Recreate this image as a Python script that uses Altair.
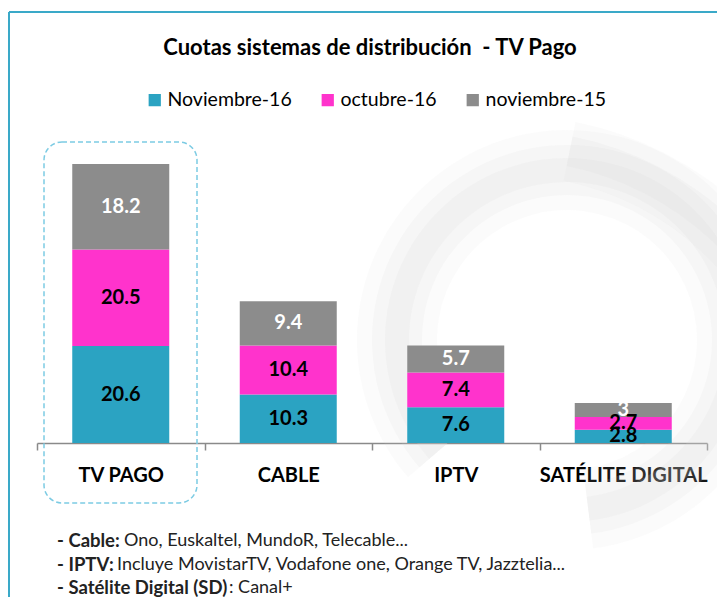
import altair as alt
import pandas as pd

categories = ["TV PAGO", "CABLE", "IPTV", "SATÉLITE DIGITAL"]
series = ["Noviembre-16", "octubre-16", "noviembre-15"]
nov16 = [20.6, 10.3, 7.6, 2.8]
oct16 = [20.5, 10.4, 7.4, 2.7]
nov15 = [18.2, 9.4, 5.7, 3]
colors = ["#2BA3C2", "#FF33CC", "#8C8C8C"]

title_text = "Cuotas sistemas de distribución\u00a0\u00a0- TV Pago"
notes_bold = ["- Cable:", "- IPTV:", "- Satélite Digital (SD)"]
notes_regular = ["Ono, Euskaltel, MundoR, Telecable...",
                 "Incluye MovistarTV, Vodafone one, Orange TV, Jazztelia...",
                 ": Canal+"]

rows = []
for i, c in enumerate(categories):
    for j, (s, vals) in enumerate(zip(series, [nov16, oct16, nov15])):
        rows.append({"cat": c, "serie": s, "value": vals[i], "order": j,
                     "label": f"{vals[i]:g}"})
df = pd.DataFrame(rows)

FONT = "Lato"
ymax = 66.5

x_enc = alt.X("cat:N", sort=categories,
              scale=alt.Scale(paddingInner=0, paddingOuter=0),
              axis=alt.Axis(title=None, labelAngle=0, labelFont=FONT,
                            labelFontWeight="bold", labelFontSize=20,
                            labelColor="black", domainColor="#8a8a8a",
                            tickColor="#8a8a8a", tickSize=7, tickBand="extent",
                            labelPadding=15, domainWidth=1.5, tickWidth=1.5,
                            grid=False))
y_scale = alt.Scale(domain=[0, ymax])

bars = alt.Chart(df).mark_bar(size=97).encode(
    x=x_enc,
    y=alt.Y("value:Q", stack="zero", scale=y_scale, axis=None),
    color=alt.Color("serie:N", sort=series,
                    scale=alt.Scale(domain=series, range=colors),
                    legend=alt.Legend(title=None, orient="none", direction="horizontal",
                                      legendX=108, legendY=-40, padding=0,
                                      symbolType="square", symbolSize=150,
                                      symbolStrokeWidth=0, symbolOpacity=1,
                                      labelFont=FONT, labelFontSize=19.5,
                                      labelColor="black", labelOffset=3,
                                      columnPadding=26)),
    order=alt.Order("order:Q"),
)

base_text = alt.Chart(df).transform_window(
    cum="sum(value)", groupby=["cat"], sort=[alt.SortField("order")], frame=[None, 0]
).transform_calculate(mid="datum.cum - datum.value / 2")

def text_layer(cond, col):
    return base_text.transform_filter(cond).mark_text(
        font=FONT, fontWeight="bold", fontSize=20, color=col, baseline="middle"
    ).encode(
        x=x_enc,
        y=alt.Y("mid:Q", scale=y_scale, axis=None),
        text="label:N",
    )

txt_dark = text_layer("datum.order < 2", "black")
txt_light = text_layer("datum.order == 2", "white")

one = pd.DataFrame({"k": [0]})

swirls = []
for r1, r2, op in [(130, 210, 0.10), (145, 195, 0.12), (158, 182, 0.16)]:
    swirls.append(alt.Chart(one).mark_arc(fill="#d8d8d8", opacity=op, theta=4.0, theta2=9.3).encode(
        x=alt.value(530), y=alt.value(210), radius=alt.value(r1), radius2=alt.value(r2)))
for r1, r2, op in [(285, 345, 0.10), (300, 330, 0.15)]:
    swirls.append(alt.Chart(one).mark_arc(fill="#d8d8d8", opacity=op, theta=0.2, theta2=1.3).encode(
        x=alt.value(470), y=alt.value(330), radius=alt.value(r1), radius2=alt.value(r2)))

title = alt.Chart(one).mark_text(font=FONT, fontWeight="bold", fontSize=22,
                                 color="black", align="center", baseline="middle").encode(
    x=alt.value(333), y=alt.value(-82), text=alt.value(title_text))

frame_rect = alt.Chart(one).mark_rect(
    fillOpacity=0, stroke="#7CCBE3", strokeDash=[5, 3], strokeWidth=1.5, cornerRadius=18
).encode(x=alt.value(7), x2=alt.value(160), y=alt.value(12), y2=alt.value(373))

border_left = alt.Chart(one).mark_rule(color="#3AA9C8", strokeWidth=2).encode(
    x=alt.value(-28), y=alt.value(-118), y2=alt.value(470))
border_top = alt.Chart(one).mark_rule(color="#3AA9C8", strokeWidth=2).encode(
    x=alt.value(-28), x2=alt.value(700), y=alt.value(-118))

note_layers = []
reg_x = [87, 80, 192]
for i in range(3):
    yy = 411 + 23.5 * i
    note_layers.append(alt.Chart(one).mark_text(
        font=FONT, fontWeight="bold", fontSize=18.5, color="#222222",
        align="left", baseline="middle").encode(
        x=alt.value(20), y=alt.value(yy), text=alt.value(notes_bold[i])))
    note_layers.append(alt.Chart(one).mark_text(
        font=FONT, fontSize=18, color="#222222",
        align="left", baseline="middle").encode(
        x=alt.value(reg_x[i]), y=alt.value(yy), text=alt.value(notes_regular[i])))

chart = alt.layer(
    *swirls, border_left, border_top, frame_rect, bars, txt_dark, txt_light, title,
    *note_layers
).properties(
    width=670, height=313,
    padding={"left": 29, "top": 122, "right": 10, "bottom": 154},
    autosize=alt.AutoSizeParams(type="none"),
    background="white",
).configure_view(stroke=None)

chart.save("out.html", embed_options={"renderer": "svg", "actions": False})
